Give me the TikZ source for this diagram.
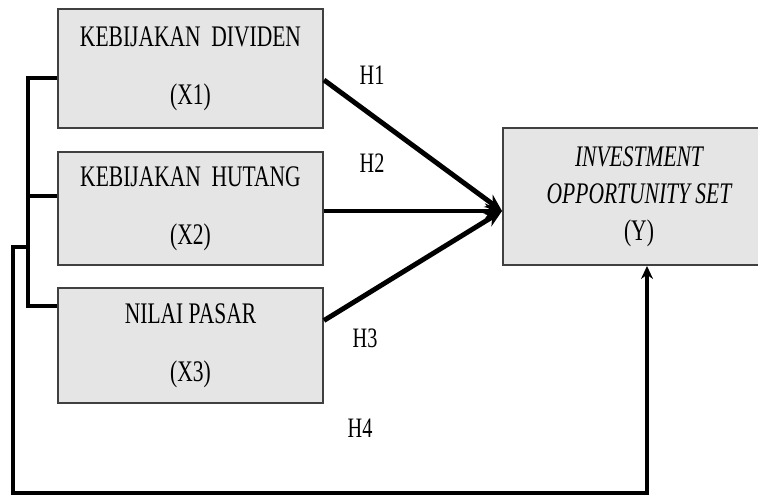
\documentclass[tikz,border=0pt]{standalone}
\usepackage{fontspec}
\setmainfont{Liberation Serif}[FakeStretch=0.72]
\usetikzlibrary{arrows.meta}

\begin{document}
\begin{tikzpicture}[>={Stealth[length=0.34cm,width=0.3cm]},
    varbox/.style={draw=black!75, line width=1.1pt, fill=black!10,
      minimum width=5.3cm, align=center, inner sep=0pt,
      font=\fontsize{17}{20}\selectfont},
    hlabel/.style={font=\fontsize{16}{19}\selectfont},
    path/.style={line width=2.8pt},
    link/.style={line width=2pt}]

  \useasboundingbox (0,0) rectangle (15.16,-9.94);

  %=====================================================================
  % independent variables
  %=====================================================================
  \node[varbox, minimum height=2.38cm] (X1) at (3.81,-1.37)
    {KEBIJAKAN \ DIVIDEN\\[13pt](X1)};
  \node[varbox, minimum height=2.26cm] (X2) at (3.81,-4.17)
    {KEBIJAKAN \ HUTANG\\[13pt](X2)};
  \node[varbox, minimum height=2.3cm] (X3) at (3.81,-6.91)
    {NILAI PASAR\\[13pt](X3)};

  %=====================================================================
  % dependent variable
  %=====================================================================
  \node[varbox, minimum width=5.44cm, minimum height=2.74cm] (Y) at (12.78,-3.93)
    {\itshape INVESTMENT\\[1pt]\itshape OPPORTUNITY SET\\[1pt](Y)};

  %=====================================================================
  % hypothesis arrows H1--H3
  %=====================================================================
  \coordinate (tip) at ([yshift=-0.29cm]Y.west);
  \draw[path,->] ([yshift=-0.23cm]X1.east) -- (tip);
  \draw[path,->] (X2.east |- tip) -- (tip);
  \draw[path,->] ([yshift=0.5cm]X3.east) -- (tip);

  \node[hlabel] (h1) at (7.44,-1.5) {H1};
  \node[hlabel] (h2) at (7.44,-3.26) {H2};
  \node[hlabel] (h3) at (7.3,-6.76) {H3};
  \node[hlabel] (h4) at (7.2,-8.56) {H4};

  %=====================================================================
  % joint bracket and H4 feedback
  %=====================================================================
  % bracket joining X1, X2, X3 on the left
  \coordinate (b1) at (0.56,-1.56);
  \coordinate (b3) at (0.56,-6.12);
  \draw[link] (X1.west |- b1) -- (b1) -- (b3) -- (X3.west |- b3);
  \draw[link] (0.56,-3.92) -- (X2.west |- 0,-3.92);

  % simultaneous path to Y
  \coordinate (j) at (0.56,-4.94);
  \coordinate (c1) at (0.26,-9.86);
  \coordinate (c2) at (12.94,-9.86);
  \draw[link,-{Stealth[length=0.26cm,width=0.24cm]}]
    (j) -- (j -| c1) -- (c1) -- (c2) -- (c2 |- Y.south);

\end{tikzpicture}
\end{document}
